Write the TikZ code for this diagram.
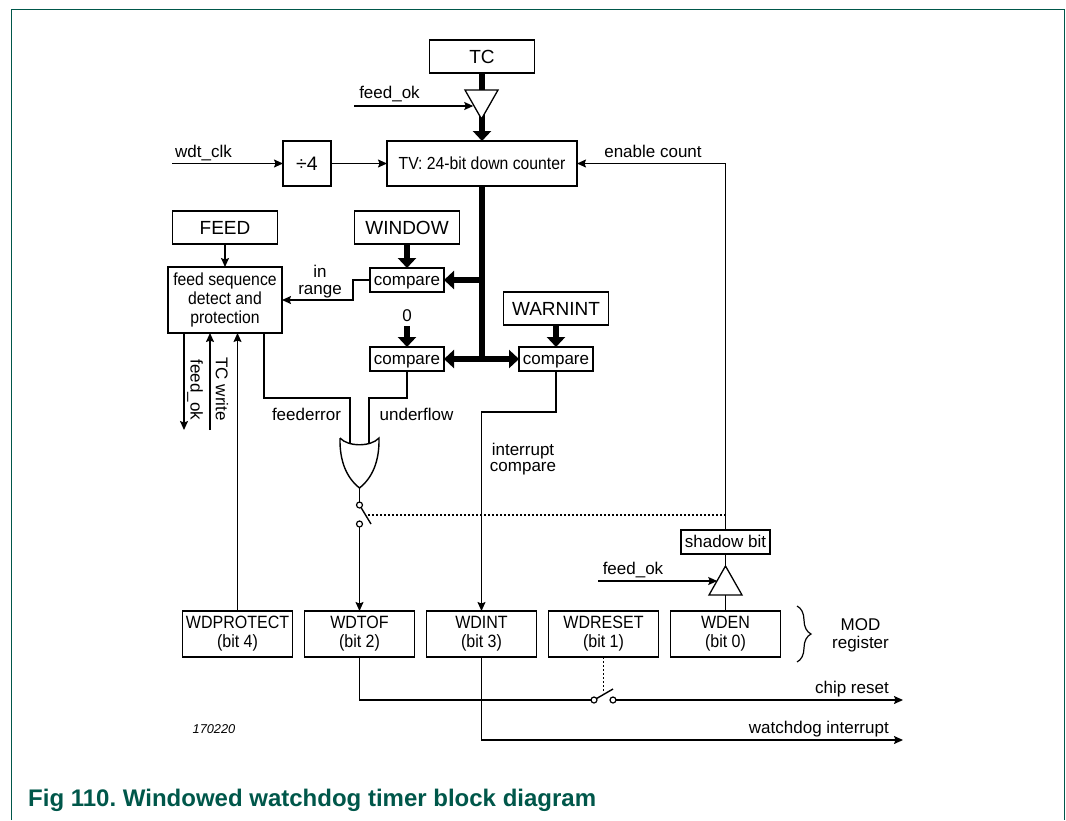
\documentclass[tikz,border=0pt]{standalone}
\usepackage{fontspec}
\setmainfont{Liberation Sans}
\newfontfamily\condfont[FakeStretch=0.9]{Liberation Sans}
\usetikzlibrary{arrows.meta, decorations.pathreplacing, positioning, shapes.geometric}

\definecolor{nxpgreen}{HTML}{00574A}

\begin{document}
\frenchspacing
\begin{tikzpicture}[
  x=1pt, y=-1pt,
  box/.style={rectangle, draw, line width=1.4pt, outer sep=0pt, inner sep=0pt,
              minimum width=105pt, minimum height=33pt, align=center,
              font=\fontsize{19}{21}\selectfont},
  reg/.style={box, minimum width=110pt, minimum height=46pt,
              font=\condfont\fontsize{17.8}{19}\selectfont},
  cmp/.style={box, line width=1.1pt, minimum width=74pt, minimum height=24pt,
              text height=14pt, text depth=3pt,
              font=\fontsize{17}{19}\selectfont},
  lbl/.style={align=center, inner sep=0pt, font=\fontsize{17}{19}\selectfont},
  buf/.style={isosceles triangle, isosceles triangle stretches, draw, fill=white,
              line width=1.3pt, inner sep=0pt, outer sep=0pt, anchor=apex,
              minimum width=33pt, minimum height=29pt},
  pole/.style={circle, draw, fill=white, line width=1.2pt, inner sep=0pt,
               minimum size=6pt, outer sep=0pt},
  sig/.style={line width=1.4pt},
  sigarr/.style={sig, -{Stealth[length=9pt, width=8pt, inset=1.5pt]}},
  bus/.style={line width=6pt},
  busarr/.style={bus, -{Triangle[length=10pt, width=18pt]}},
  ctrl/.style={line width=1.2pt, dash pattern=on 2pt off 2pt}
]
\useasboundingbox (0,0) rectangle (1066,820);

% Page frame
\draw[nxpgreen, line width=1pt] (11,820) -- (11,9) -- (1064,9) -- (1064,820);

% Counter
\node[box, minimum width=190pt, minimum height=45pt, font=\condfont\fontsize{17.5}{19}\selectfont]
     (tv) at (482,163.5) {TV: 24-bit down counter};
\node[box, above=68pt of tv] (tc) {TC};
\node[box, left=56pt of tv, minimum width=48pt, minimum height=45pt,
      font=\fontsize{19.5}{21}\selectfont] (div) {÷4};

% Compare column
\node[cmp] (cmpwin) at (407,280) {compare};
\node[box, above=24pt of cmpwin] (window) {WINDOW};
\node[cmp, below=55pt of cmpwin] (cmpzero) {compare};
\node[lbl, above=25pt of cmpzero] (zero) {0};
\node[cmp, right=75pt of cmpzero] (cmpwarn) {compare};
\node[box, above=22pt of cmpwarn] (warnint) {WARNINT};

% Feed logic
\node[box, left=88pt of cmpwin, yshift=-20pt, minimum width=114pt, minimum height=66pt,
      font=\condfont\fontsize{17.5}{19}\selectfont] (feedseq) {feed sequence\\detect and\\protection};
\node[box, above=23pt of feedseq] (feed) {FEED};

% MOD register
\node[reg] (wdtof) at (359.5,634) {WDTOF\\(bit 2)};
\node[reg, left=12pt of wdtof] (wdprotect) {WDPROTECT\\(bit 4)};
\node[reg, right=12pt of wdtof] (wdint) {WDINT\\(bit 3)};
\node[reg, right=12pt of wdint] (wdreset) {WDRESET\\(bit 1)};
\node[reg, right=12pt of wdreset] (wden) {WDEN\\(bit 0)};
\node[cmp, above=57pt of wden, minimum width=89pt] (shadow) {shadow bit};

% Free line ends
\coordinate (clkin) at (172,163.5);
\coordinate (feedtop) at (354,106);
\coordinate (feedlow) at (598,581);
\coordinate (feedokend) at (184,430);
\coordinate (tcwrend) at (210,430);
\coordinate (reset) at (903,700);
\coordinate (irq) at (903,740);
\coordinate (orleft) at (350,443);
\coordinate (orright) at (369,443);
\coordinate (orout) at (359.5,488);

% Thick buses
\draw[busarr] (tc) -- (tv);
\draw[bus] (tv.south) -- (tv.south |- cmpzero);
\draw[busarr] (tv.south |- cmpwin) -- (cmpwin.east);
\draw[busarr] (tv.south |- cmpzero) -- (cmpzero.east);
\draw[busarr] (tv.south |- cmpwarn) -- (cmpwarn.west);
\draw[busarr] (window) -- (cmpwin);
\draw[busarr] ([yshift=-4pt]zero.south) -- (cmpzero);
\draw[busarr] (warnint) -- (cmpwarn);

% Buffers
\node[buf, shape border rotate=-90] (buftop) at (481.5,119) {};
\node[buf, shape border rotate=90] (buflow) at (725.5,566) {};

% Clock and enable
\draw[sigarr] (clkin) -- (div);
\draw[sigarr] (div) -- (tv);
\draw[sigarr] (feedtop) -- (feedtop -| buftop.right side);
\draw[sigarr] (feedlow) -- (feedlow -| buflow.left side);
\draw[sig] (wden.north) -- (buflow.lower side);
\draw[sig] (buflow.apex) -- (shadow.south);
\draw[sigarr] (shadow.north) |- (tv.east);

% Feed logic
\draw[sigarr] (feed) -- (feedseq);
\draw[sigarr] (cmpwin.west) -- ++(-17,0) |- (feedseq.east);
\draw[sigarr] ([xshift=16pt]feedseq.south west) -- (feedokend);
\draw[sigarr] (tcwrend) -- (tcwrend |- feedseq.south);
\draw[sigarr] (wdprotect) -- (wdprotect |- feedseq.south);

% Or gate and switch
\draw[sig] ([xshift=-18pt]feedseq.south east) |- (350,398) -- (orleft);
\draw[sig] (cmpzero.south) |- (369,398) -- (orright);
\draw[sig] (340,438) .. controls (348,447) and (371,447) .. (379,438)
           .. controls (379.5,462) and (372,478) .. (orout)
           .. controls (347,478) and (339.5,462) .. (340,438);
\node[pole] (swtop) at (359.5,505) {};
\node[pole] (swlow) at (359.5,524) {};
\draw[sig] (orout) -- (swtop);
\draw[sig] (swtop) -- (371,524);
\draw[ctrl] (368,515) -- (725,515);
\draw[sigarr] (swlow) -- (wdtof);

% Interrupt compare
\draw[sigarr] (cmpwarn.south) |- (wdint.north |- 0,412) -- (wdint);

% Outputs
\node[pole] (rsta) at (594,700) {};
\node[pole] (rstb) at (613,700) {};
\draw[sig] (wdtof) |- (rsta);
\draw[sigarr] (rstb) -- (reset);
\draw[sig] (rsta) -- (613,689);
\draw[ctrl] (wdreset) -- (wdreset |- 0,693);
\draw[sigarr] (wdint) |- (irq);

% Brace
\draw[sig, line width=1.2pt, decorate, decoration={brace, amplitude=14pt}] (797,606) -- (797,662);

% Labels
\node[lbl] (lclk) at (203.5,153) {wdt\_clk};
\node[lbl] (lfeedtop) at (389.5,94) {feed\_ok};
\node[lbl] (lenable) at (653,151) {enable count};
\node[lbl, font=\fontsize{17}{16.5}\selectfont] (lrange) at (320,281.5) {in\\range};
\node[lbl, rotate=-90] (lfeedok) at (195,390) {feed\_ok};
\node[lbl, rotate=-90] (ltcwr) at (222,389) {TC write};
\node[lbl] (lfeederr) at (306.5,414) {feederror};
\node[lbl] (lunder) at (416.5,414) {underflow};
\node[lbl, font=\fontsize{17}{16.5}\selectfont] (lirq) at (523,459) {interrupt\\compare};
\node[lbl] (lfeedlow) at (633,570) {feed\_ok};
\node[lbl, font=\fontsize{17}{18}\selectfont] (lmod) at (860.5,635) {MOD\\register};
\node[lbl, anchor=east] (lreset) at (889,689) {chip reset};
\node[lbl, anchor=east] (lwdog) at (889,729) {watchdog interrupt};
\node[lbl, font=\fontsize{12.8}{14}\selectfont\itshape] (lcode) at (214,729) {170220};

% Caption
\node[anchor=west, inner sep=0pt, text=nxpgreen, font=\fontsize{24}{26}\selectfont\bfseries]
     (caption) at (28,800) {Fig 110. Windowed watchdog timer block diagram};
\end{tikzpicture}
\end{document}
